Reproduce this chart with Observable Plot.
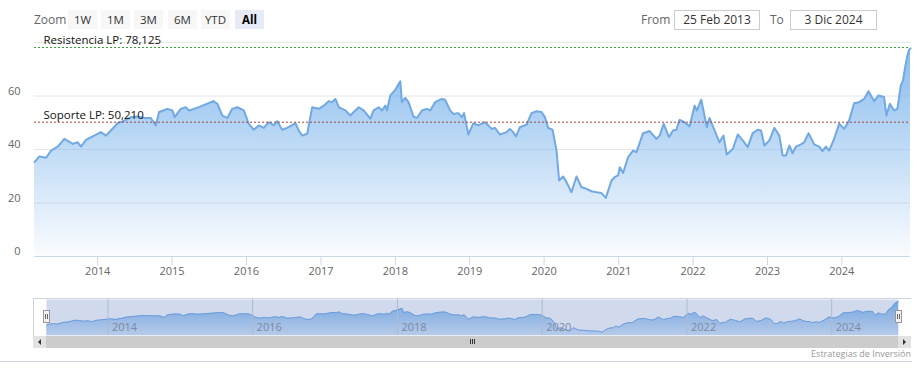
<!DOCTYPE html>
<html><head><meta charset="utf-8">
<script src="https://cdn.jsdelivr.net/npm/d3@7"></script>
<script src="https://cdn.jsdelivr.net/npm/@observablehq/plot@0.6"></script>
<style>
html,body{margin:0;padding:0;background:#fff;}
#wrap{position:relative;width:919px;height:377px;overflow:hidden;font-family:"Open Sans",sans-serif;}
.a{position:absolute;}
.btn{position:absolute;top:10px;height:19px;width:29px;background:#f7f7f7;font-size:11.5px;color:#333;text-align:center;line-height:19px;}
.btn.sel{background:#e6ebf5;font-weight:bold;color:#000;}
.lbl{position:absolute;top:10px;line-height:19px;font-size:12px;color:#666;}
.inp{position:absolute;top:10px;height:18px;border:1px solid #cccccc;font-size:12px;color:#333;text-align:center;line-height:18px;}
.handle{position:absolute;width:5px;height:11px;background:#f2f2f2;border:1px solid #999;}
.handle i{position:absolute;top:3px;width:1px;height:5px;background:#666;}
</style></head>
<body><div id="wrap"></div>
<script>
// ---- data ----
const tYears = [2013.151,2013.217,2013.307,2013.374,2013.464,2013.552,2013.665,2013.732,2013.776,2013.843,2013.954,
2014.044,2014.111,2014.178,2014.268,2014.357,2014.446,2014.536,2014.625,2014.714,2014.782,2014.826,2014.938,
2015.005,2015.036,2015.117,2015.184,2015.228,2015.295,2015.385,2015.475,2015.555,2015.609,2015.676,2015.743,2015.810,2015.877,2015.965,
2016.032,2016.099,2016.166,2016.233,2016.300,2016.367,2016.413,2016.480,2016.547,2016.658,2016.702,2016.748,2016.815,2016.882,2016.971,
2017.038,2017.105,2017.150,2017.194,2017.239,2017.329,2017.395,2017.440,2017.507,2017.574,2017.664,2017.708,2017.775,2017.820,2017.865,2017.887,2017.932,2017.999,
2018.066,2018.088,2018.133,2018.177,2018.244,2018.290,2018.357,2018.424,2018.468,2018.535,2018.625,2018.669,2018.736,2018.780,2018.847,2018.893,2018.924,2018.981,
2019.048,2019.115,2019.205,2019.295,2019.339,2019.406,2019.496,2019.540,2019.585,2019.621,2019.674,2019.764,2019.831,2019.898,2019.965,
2020.010,2020.054,2020.113,2020.166,2020.201,2020.255,2020.300,2020.367,2020.434,2020.501,2020.568,2020.635,2020.703,2020.770,2020.827,2020.904,2020.948,2020.992,
2021.015,2021.059,2021.126,2021.193,2021.239,2021.327,2021.417,2021.507,2021.551,2021.605,2021.676,2021.729,2021.775,2021.819,2021.886,2021.953,
2022.020,2022.051,2022.110,2022.185,2022.221,2022.275,2022.355,2022.409,2022.453,2022.534,2022.601,2022.668,2022.735,2022.802,2022.869,2022.914,2022.959,
2023.026,2023.093,2023.160,2023.204,2023.250,2023.295,2023.338,2023.384,2023.451,2023.495,2023.553,2023.629,2023.696,2023.740,2023.786,2023.830,2023.897,2023.964,
2024.031,2024.098,2024.165,2024.232,2024.299,2024.357,2024.433,2024.491,2024.567,2024.598,2024.644,2024.701,2024.745,2024.791,2024.822,2024.849,2024.879,2024.902,2024.921];
const price = [35.3,37.4,36.9,39.6,41.1,44.0,42.1,42.7,41.1,43.6,45.2,
46.5,45.2,47.1,49.8,50.8,52.1,52.3,51.8,51.8,49.0,54.0,55.2,
54.6,52.1,55.2,55.8,54.6,55.2,56.1,57.1,58.1,57.1,52.7,51.8,55.2,55.8,54.6,
49.6,47.4,49.0,48.1,50.2,49.0,50.6,47.4,48.1,49.8,47.1,45.2,45.9,55.8,55.2,
56.4,58.1,57.7,58.9,55.8,54.6,52.7,54.0,55.8,54.6,51.5,54.6,55.8,54.6,56.4,54.6,60.2,62.3,
65.5,57.7,59.3,57.7,52.3,51.8,54.6,55.2,54.6,57.7,58.9,58.6,54.6,53.3,53.6,52.1,53.6,45.6,
49.8,49.0,50.2,47.7,48.1,45.6,46.5,47.7,46.5,44.9,48.3,49.3,53.6,54.3,54.0,
52.1,48.1,47.4,39.6,28.4,29.9,27.8,24.0,29.9,25.9,25.3,24.4,24.0,23.7,21.9,28.4,29.7,30.3,
33.4,31.2,37.1,39.6,39.0,46.1,46.9,44.0,45.2,49.6,44.6,47.1,47.4,51.1,50.2,48.6,
56.4,54.6,58.6,48.3,51.8,48.1,42.7,45.2,38.1,40.2,45.6,43.4,40.9,46.1,47.4,47.1,41.5,
43.4,48.1,45.2,37.8,37.8,41.5,38.6,41.1,41.9,42.7,46.1,41.9,41.1,39.4,41.1,39.6,44.0,49.6,
47.7,50.8,57.3,57.7,58.9,61.8,58.1,60.2,59.6,52.7,57.1,54.6,55.2,63.9,66.0,70.8,75.1,77.3,77.8];
const resistance = 78.125;
const support = 50.21;
const yTicks = [0, 20, 40, 60];
const yGrid = [20, 40, 60, 80];
const xTickYears = [2014,2015,2016,2017,2018,2019,2020,2021,2022,2023,2024];
const navTickYears = [2014,2016,2018,2020,2022,2024];
const rangeButtons = ["1W","1M","3M","6M","YTD","All"];
const fromText = "25 Feb 2013", toText = "3 Dic 2024";
const creditText = "Estrategias de Inversión";

// ---- helpers ----
function fromDecimal(t){const y=Math.floor(t);const a=Date.UTC(y,0,1),b=Date.UTC(y+1,0,1);return new Date(a+(t-y)*(b-a));}
const data = tYears.map((t,i)=>({date:fromDecimal(t), value:price[i]}));
const x0 = new Date(Date.UTC(2013,1,25)), x1 = new Date(Date.UTC(2024,11,3));
const yearDate = y => new Date(Date.UTC(y,0,1));
const fmt = v => v.toFixed(3).replace(".", ",");
const wrap = document.getElementById("wrap");
const ns = "http://www.w3.org/2000/svg";

// ---- main chart ----
const main = Plot.plot({
  width:919, height:290, marginTop:42, marginBottom:34, marginLeft:34, marginRight:9,
  style:{fontFamily:"Open Sans, sans-serif", fontSize:"11px", background:"transparent", overflow:"visible"},
  x:{type:"utc", domain:[x0,x1]},
  y:{domain:[0,80]},
  marks:[
    Plot.ruleY(yGrid,{stroke:"#e6e6e6"}),
    Plot.areaY(data,{x:"date", y:"value", fill:"url(#mainGrad)"}),
    Plot.lineY(data,{x:"date", y:"value", stroke:"#72a9e3", strokeWidth:2}),
    Plot.ruleY([0],{stroke:"#ccd6eb"}),
    Plot.ruleY([resistance],{stroke:"#34a034", strokeDasharray:"2,2"}),
    Plot.ruleY([support],{stroke:"#a8433e", strokeDasharray:"2,2"}),
    Plot.text([{v:resistance, s:"Resistencia LP: "+fmt(resistance)},{v:support, s:"Soporte LP: "+fmt(support)}],
      {x:()=>x0, y:"v", text:"s", textAnchor:"start", dx:9, dy:-7, fill:"#111", fontSize:11.5}),
    Plot.axisY(yTicks,{anchor:"left", tickSize:0, tickPadding:14, dy:-5, fill:"#666", fontSize:11}),
    Plot.axisX(xTickYears.map(yearDate),{anchor:"bottom", tickSize:9, tickPadding:2, stroke:"#ccd6eb", fill:"#666", tickFormat:"%Y", fontSize:11})
  ]
});
{
  const defs = document.createElementNS(ns,"defs");
  defs.innerHTML = '<linearGradient id="mainGrad" x1="0" y1="0" x2="0" y2="1"><stop offset="0" stop-color="#7cb5ec" stop-opacity="0.9"/><stop offset="1" stop-color="#7cb5ec" stop-opacity="0.04"/></linearGradient>';
  main.prepend(defs);
}
main.style.position="absolute"; main.style.left="0px"; main.style.top="0px";
wrap.appendChild(main);

// ---- navigator ----
const navMin = 15.9, navMax = 81.7;
const nav = Plot.plot({
  width:919, height:60, marginTop:9, marginBottom:15, marginLeft:46, marginRight:21,
  style:{fontFamily:"Open Sans, sans-serif", fontSize:"11px", background:"transparent", overflow:"visible"},
  x:{type:"utc", domain:[x0,x1], axis:null},
  y:{domain:[navMin,navMax], axis:null},
  marks:[
    Plot.areaY(data,{x:"date", y1:navMin, y2:"value", fill:"url(#navGrad)"}),
    Plot.lineY(data,{x:"date", y:"value", stroke:"#6fa8e6", strokeWidth:1}),
    Plot.frame({fill:"rgba(102,133,194,0.3)", stroke:null}),
    Plot.ruleX(navTickYears.map(yearDate),{stroke:"#aeb9d3"}),
    Plot.text(navTickYears,{x:yearDate, frameAnchor:"bottom", lineAnchor:"middle", dy:-8, dx:4, textAnchor:"start", text:d=>String(d), fill:"#7f889c", fontSize:11})
  ]
});
{
  const defs = document.createElementNS(ns,"defs");
  defs.innerHTML = '<linearGradient id="navGrad" x1="0" y1="0" x2="0" y2="1"><stop offset="0" stop-color="#7cb5ec" stop-opacity="1"/><stop offset="1" stop-color="#7cb5ec" stop-opacity="0.3"/></linearGradient>';
  nav.prepend(defs);
}
nav.style.position="absolute"; nav.style.left="0px"; nav.style.top="290px";
wrap.appendChild(nav);

// ---- HTML chrome ----
function div(cls, css, html){const d=document.createElement("div"); if(cls) d.className=cls; d.style.cssText=css; if(html!=null) d.innerHTML=html; wrap.appendChild(d); return d;}
div("lbl","left:34px;","Zoom");
const btnX=[68,101,134,168,201,235];
rangeButtons.forEach((b,i)=>div("btn"+(b==="All"?" sel":""),"left:"+btnX[i]+"px;",b));
div("lbl","left:641px;","From");
div("inp","left:674px;width:84px;",fromText);
div("lbl","left:770px;","To");
div("inp","left:790px;width:85px;",toText);
// navigator outline
div("a","left:33px;top:298px;width:878px;height:1px;background:#cdd3df;");
div("a","left:33px;top:298px;width:1px;height:38px;background:#cdd3df;");
// handles
div("handle","left:43px;top:310px;","<i style='left:1px'></i><i style='left:3px'></i>");
div("handle","left:895px;top:310px;","<i style='left:1px'></i><i style='left:3px'></i>");
// scrollbar
div("a","left:33px;top:336px;width:878px;height:12px;background:#cccccc;");
div("a","left:33px;top:336px;width:13px;height:12px;background:#e2e2e2;");
div("a","left:898px;top:336px;width:13px;height:12px;background:#e2e2e2;");
div("a","left:38px;top:339px;width:0;height:0;border-top:3px solid transparent;border-bottom:3px solid transparent;border-right:3px solid #333;");
div("a","left:903px;top:339px;width:0;height:0;border-top:3px solid transparent;border-bottom:3px solid transparent;border-left:3px solid #333;");
[470,472,474].forEach(x=>div("a","left:"+x+"px;top:339px;width:1px;height:5px;background:#333;"));
// bottom border + credit
div("a","left:0px;top:361px;width:912px;height:1px;background:#d0d5e0;");
div("a","right:8px;top:347px;font-size:9px;color:#999;line-height:14px;",creditText);
</script></body></html>
